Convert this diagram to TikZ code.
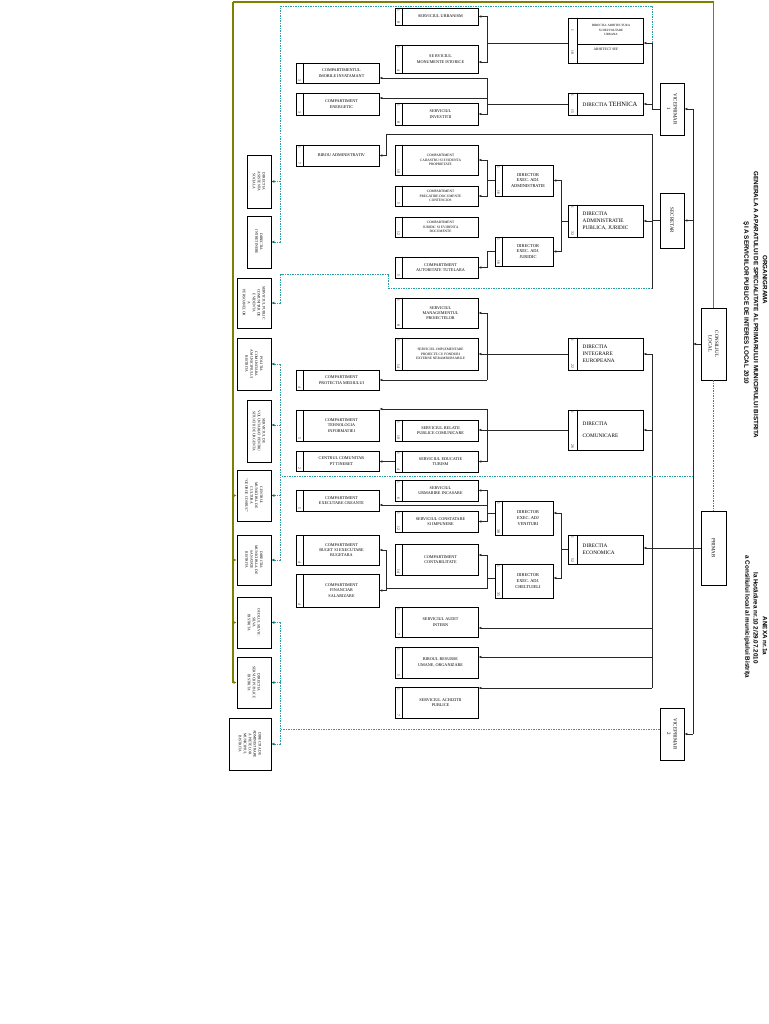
\documentclass[tikz,border=0pt]{standalone}
\usepackage{fontspec}
\setmainfont{Liberation Serif}
\newfontfamily\titlef{Liberation Sans}
\usetikzlibrary{arrows.meta,calc}
\definecolor{olivec}{RGB}{128,128,0}
\definecolor{tealc}{RGB}{40,160,165}
\definecolor{tealdark}{RGB}{20,110,110}
\definecolor{linec}{RGB}{40,40,40}

% name, xl, yt, xr, yb, topnum, botnum, text, strip width
\newcommand\orgbox[9]{%
  \node[box, minimum width={(#4-#2)*1pt}, minimum height={(#5-#3)*1pt}] (#1) at ({(#2+#4)/2},{(#3+#5)/2}) {};
  \draw[line width=0.5pt] ([xshift=#9pt]#1.north west) -- ([xshift=#9pt]#1.south west);
  \node[num, anchor=west] at ([xshift={#9*0.5pt}, yshift=-2pt]#1.north west) {#6};
  \node[num, anchor=east] at ([xshift={#9*0.5pt}, yshift=2pt]#1.south west) {#7};
  \node[bt] at ([xshift={#9*0.5pt}]#1.center) {#8};
}
% name, xl, yt, xr, yb, text, style
\newcommand\sidebox[7]{%
  \node[box, minimum width={(#4-#2)*1pt}, minimum height={(#5-#3)*1pt}] (#1) at ({(#2+#4)/2},{(#3+#5)/2}) {};
  \node[#7] at (#1.center) {#6};
}

\begin{document}
\begin{tikzpicture}[x=1pt,y=-1pt,
  box/.style={draw=black, line width=0.7pt, inner sep=0pt, fill=white},
  conn/.style={draw=linec, line width=0.8pt},
  arr/.style={conn, -{Latex[length=3pt,width=2.6pt]}},
  tdot/.style={draw=tealc, line width=1pt, dash pattern=on 1.5pt off 1pt},
  tarr/.style={tdot, -{Latex[length=3pt,width=2.8pt,color=tealdark]}},
  oarr/.style={draw=olivec, line width=1pt, -{Latex[length=3pt,width=3pt]}},
  num/.style={font=\fontsize{3.6}{4}\selectfont, rotate=-90, inner sep=0pt},
  bt/.style={font=\fontsize{4.2}{5.3}\selectfont, align=center, inner sep=0pt},
  ltxt/.style={font=\fontsize{3.7}{4.9}\selectfont, align=center, inner sep=0pt, rotate=-90},
  ptxt/.style={font=\fontsize{5}{6.5}\selectfont, align=center, inner sep=0pt, rotate=-90},
  ttl/.style={font=\titlef\bfseries\fontsize{6.3}{7}\selectfont, rotate=-90, inner sep=0pt},
]
\fill[white] (0,0) rectangle (768,1024);
\useasboundingbox (0,0) rectangle (768,1024);

% ---------------- compartments column
\orgbox{C1}{296}{63}{379}{83}{}{3}{COMPARTIMENTUL\\IMOBILE INVATAMANT}{8}
\orgbox{C2}{296}{93}{379}{115}{}{3}{COMPARTIMENT\\ENERGETIC}{8}
\orgbox{C3}{296}{145}{379}{166}{1}{7}{BIROU ADMINISTRATIV}{8}
\orgbox{C4}{296}{370}{379}{390}{}{4}{COMPARTIMENT\\PROTECTIA MEDIULUI}{8}
\orgbox{C5}{296}{410}{379}{441}{}{5}{COMPARTIMENT\\TEHNOLOGIA\\INFORMATIEI}{8}
\orgbox{C6}{296}{451}{379}{471}{}{2}{CENTRUL COMUNITAR\\PT TINERET}{8}
\orgbox{C7}{296}{490}{379}{511}{}{5}{COMPARTIMENT\\EXECUTARE CREANTE}{8}
\orgbox{C8}{296}{535}{379}{565}{}{4}{COMPARTIMENT\\BUGET SI EXECUTARE\\BUGETARA}{8}
\orgbox{C9}{296}{574}{379}{607}{}{4}{COMPARTIMENT\\FINANCIAR\\SALARIZARE}{8}

% ---------------- services column
\orgbox{S1}{395}{8}{478}{25}{1}{8}{SERVICIUL URBANISM}{8}
\orgbox{S2}{395}{45}{478}{73}{1}{4}{SE RVICIUL\\MONUMENTE ISTORICE}{8}
\orgbox{S3}{395}{103}{478}{125}{1}{8}{SERVICIUL\\INVESTITII}{8}
\tikzset{bt/.style={font=\fontsize{3.5}{4.6}\selectfont, align=center, inner sep=0pt}}
\orgbox{S4}{395}{145}{478}{175}{}{10}{COMPARTIMENT\\CADASTRU SI EVIDENTA\\PROPRIETATE}{8}
\orgbox{S5}{395}{186}{478}{206}{}{5}{COMPARTIMENT\\PREGATIRE DOCUMENTE\\CONTENCIOS}{8}
\orgbox{S6}{395}{217}{478}{237}{}{12}{COMPARTIMENT\\JURIDIC SI EVIDENTA\\DOCUMENTE}{8}
\tikzset{bt/.style={font=\fontsize{4.2}{5.3}\selectfont, align=center, inner sep=0pt}}
\orgbox{S7}{395}{257}{478}{278}{}{5}{COMPARTIMENT\\AUTORITATE TUTELARA}{8}
\orgbox{S8}{395}{298}{478}{328}{1}{8}{SERVICIUL\\MANAGEMENTUL\\PROIECTELOR}{8}
\tikzset{bt/.style={font=\fontsize{3.5}{4.6}\selectfont, align=center, inner sep=0pt}}
\orgbox{S9}{395}{338}{478}{370}{1}{14}{SERVICIUL IMPLEMENTARE\\PROIECTE CU FONDURI\\EXTERNE NERAMBURSABILE}{8}
\tikzset{bt/.style={font=\fontsize{4.2}{5.3}\selectfont, align=center, inner sep=0pt}}
\orgbox{S10}{395}{420}{478}{441}{1}{10}{SERVICIUL RELATII\\PUBLICE COMUNICARE}{8}
\orgbox{S11}{395}{451}{478}{472}{1}{4}{SERVICIUL EDUCATIE\\TURISM}{8}
\orgbox{S12}{395}{480}{478}{501}{1}{6}{SERVICIUL\\URMARIRE INCASARE}{8}
\orgbox{S13}{395}{511}{478}{532}{1}{12}{SERVICIUL CONSTATARE\\SI IMPUNERE}{8}
\orgbox{S14}{395}{544}{478}{575}{}{14}{COMPARTIMENT\\CONTABILITATE}{8}
\orgbox{S15}{395}{607}{478}{637}{1}{7}{SERVICIUL AUDIT\\INTERN}{8}
\orgbox{S16}{395}{647}{478}{678}{1}{5}{BIROUL RESURSE\\UMANE, ORGANIZARE}{8}
\orgbox{S17}{395}{687}{478}{718}{1}{7}{SERVICIUL ACHIZITII\\PUBLICE}{8}

% ---------------- directors
\tikzset{bt/.style={font=\fontsize{4.4}{5.8}\selectfont, align=center, inner sep=0pt}}
\orgbox{DA}{495}{165}{553}{196}{1}{16}{DIRECTOR\\EXEC. ADJ.\\ADMINISTRATIE}{8}
\orgbox{DJ}{495}{237}{553}{266}{1}{16}{DIRECTOR\\EXEC. ADJ.\\JURIDIC}{8}
\orgbox{DV}{495}{501}{553}{535}{1}{38}{DIRECTOR\\EXEC. ADJ\\VENITURI}{8}
\orgbox{DC}{495}{564}{553}{598}{1}{35}{DIRECTOR\\EXEC. ADJ.\\CHELTUIELI}{8}

% ---------------- directions
\node[box, minimum width=75pt, minimum height=45pt] (D1) at (605.5,40.5) {};
\draw[line width=0.5pt] ([xshift=10pt]D1.north west) -- ([xshift=10pt]D1.south west);
\draw[line width=0.5pt] (578,44) -- (643,44);
\node[num, anchor=west] at ([xshift=5pt, yshift=-12pt]D1.north west) {1};
\node[num, anchor=east] at ([xshift=5pt, yshift=9pt]D1.south west) {18};
\node[font=\fontsize{3.2}{4.1}\selectfont, align=center, inner sep=0pt] (D1t) at (611,30) {DIRECTIA ARHITECTURA\\SI DEZVOLTARE\\URBANA};
\node[font=\fontsize{3.6}{4.2}\selectfont, inner sep=0pt] (D1b) at (606,49) {ARHITECT SEF};

\tikzset{bt/.style={font=\fontsize{5.3}{7.2}\selectfont, align=left, inner sep=0pt, anchor=west, xshift=-28pt}}
\orgbox{D2}{568}{93}{643}{115}{1}{15}{DIRECTIA {\fontsize{6.5}{7}\selectfont TEHNICA}}{10}
\orgbox{D3}{568}{205}{643}{237}{1}{32}{DIRECTIA\\ADMINISTRATIE\\ PUBLICA, JURIDIC}{10}
\orgbox{D4}{568}{338}{643}{370}{1}{22}{DIRECTIA\\INTEGRARE\\EUROPEANA}{10}
\orgbox{D5}{568}{410}{643}{450}{1}{26}{DIRECTIA\\[5pt] COMUNICARE}{10}
\orgbox{D6}{568}{535}{643}{564}{1}{52}{DIRECTIA\\ECONOMICA}{10}

% ---------------- leadership boxes
\sidebox{VP1}{660}{83}{684}{135}{VICEPRIMAR\\1}{ptxt}
\sidebox{SEC}{660}{193}{684}{248}{SECRETAR}{ptxt}
\sidebox{CL}{701}{308}{726}{380}{CONSILIUL\\LOCAL}{ptxt}
\sidebox{PR}{701}{511}{726}{585}{PRIMAR}{ptxt}
\sidebox{VP2}{660}{708}{684}{760}{VICEPRIMAR\\2}{ptxt}

% ---------------- left column (subordinated units)
\sidebox{L1}{247}{155}{271}{208}{DIRECTIA\\ASISTENTA\\SOCIALA}{ltxt}
\sidebox{L2}{247}{216}{271}{268}{DIRECTIA\\INTRETINERE}{ltxt}
\sidebox{L3}{237}{278}{271}{328}{SERVICIUL PUBLIC\\COMUNITAR DE\\EVIDENTA\\A\\PERSOANELOR}{ltxt}
\sidebox{L4}{237}{338}{271}{390}{POLITIA\\COMUNITARA\\A MUNICIPIULUI\\BISTRITA}{ltxt}
\sidebox{L5}{247}{400}{271}{462}{SERVICIUL DE\\VOLUNTARIAT PENTRU\\SITUATII DE URGENTA}{ltxt}
\sidebox{L6}{237}{470}{271}{521}{CENTRUL\\MUNICIPAL DE\\CULTURA\\``GEORGE COSBUC''}{ltxt}
\sidebox{L7}{237}{535}{271}{585}{DIRECTIA\\MUNICIPALA DE\\SANATATE\\BISTRITA}{ltxt}
\sidebox{L8}{237}{597}{271}{648}{OCOLUL SILVIC\\SILVA\\BISTRITA}{ltxt}
\sidebox{L9}{237}{657}{271}{708}{DIRECTIA\\SERVICII PUBLICE\\BISTRITA}{ltxt}
\sidebox{L10}{229}{718}{271}{770}{DIRECTIA DE\\ADMINISTRARE\\A PIETELOR\\MUNICIPIUL\\BISTRITA}{ltxt}

% ---------------- title
\node[ttl] (t1) at (765,280) {ORGANIGRAMA};
\node[ttl] (t2) at (756,305) {GENERALA A APARATULUI DE SPECIALITATE AL PRIMARULUI MUNICIPIULUI BISTRITA};
\node[ttl] (t3) at (746,303) {ŞI A SERVICIILOR PUBLICE DE INTERES LOCAL 2010};
\node[ttl] (t4) at (765,636) {ANEXA nr.1a};
\node[ttl] (t5) at (756,618) {la Hotărârea nr.10 2/29.07.2010};
\node[ttl] (t6) at (747,617) {a Consiliului local al municipiului Bistrița};

% ---------------- olive lines
\coordinate (oTL) at (233,2);
\coordinate (oTR) at (713.5,2);
\draw[olivec, line width=2.4pt] (oTL) -- (oTR);
\draw[olivec, line width=1pt] (oTR) -- (CL.north);
\draw[olivec, line width=1pt, dash pattern=on 1.5pt off 1pt] (CL.south) -- (PR.north);
\draw[olivec, line width=1.3pt] (oTL) -- (oTL |- L9.west);
\foreach \b in {L6,L7,L8,L9} \draw[oarr] (oTL |- \b.west) -- (\b.west);

% ---------------- main vertical from the mayor
\coordinate (mtop) at (693,109);
\draw[conn] (mtop) -- (mtop |- VP2.east);
\draw[arr] (mtop) -- (VP1.east);
\draw[arr] (mtop |- SEC.east) -- (SEC.east);
\draw[arr] (CL.west) -- (CL.west -| mtop);
\draw[arr] (mtop |- VP2.east) -- (VP2.east);
\draw[arr] (PR.west) -- (PR.west -| D6.east);

% ---------------- viceprimar 1
\coordinate (jC) at (652,43);
\draw[arr] (jC) -- (jC -| D1.east);
\draw[conn] (jC) |- (VP1.west);
\draw[arr] (jC |- D2.east) -- (D2.east);
\coordinate (jA) at (487,43);
\draw[conn] (jA -| D1.west) -- (jA);
\draw[arr] (jA) |- (S1.east);
\draw[arr] (jA) |- ([yshift=-3pt]S2.east);
\coordinate (jB) at (487,104);
\draw[conn] (D2.west) -- (jB);
\draw[arr] (jB) |- ([yshift=-5pt]C1.east);
\draw[arr] (jB) |- ([yshift=6pt]C2.east);
\draw[arr] (jB) |- (S3.east);
% teal dotted to L1, L2
\coordinate (jCt) at (652.5,43);
\coordinate (tA) at (280.5,6.5);
\draw[tdot] (jCt) |- (tA) -- (tA |- L2.east);
\draw[tarr] (tA |- L1.east) -- (L1.east);
\draw[tarr] (tA |- L2.east) -- (L2.east);

% ---------------- secretar
\coordinate (jD) at (652,134);
\coordinate (jE) at (652,288.5);
\coordinate (jF) at (386,134);
\draw[conn] (SEC.west) -- (SEC.west -| jD);
\draw[conn] (jF) -- (jD) -- (jE);
\draw[arr] (jD |- D3.east) -- (D3.east);
\draw[arr] (jF) |- (C3.east);
\coordinate (tB) at (388.5,274.5);
\coordinate (tC) at (280.5,274.5);
\draw[tdot] (jE) -| (tB) -- (tC) -- (tC |- L3.east);
\draw[tarr] (tC |- L3.east) -- (L3.east);
% D3 branch
\coordinate (jG) at (561,221);
\draw[conn] (D3.west) -- (jG);
\draw[arr] (jG) |- (DA.east);
\draw[arr] (jG) |- (DJ.east);
\coordinate (jH) at (487,180.5);
\draw[conn] (DA.west) -- (jH);
\draw[arr] (jH) |- (S4.east);
\draw[arr] (jH) |- (S5.east);
\coordinate (jI) at (487,251.5);
\draw[conn] (DJ.west) -- (jI);
\draw[arr] (jI) |- (S7.east);

% ---------------- integrare / comunicare / staff services
\coordinate (jJ) at (652,354);
\coordinate (jK) at (652,688);
\draw[conn] (jJ) -- (jK);
\draw[arr] (jJ) -- (D4.east);
\draw[arr] (jJ |- D5.east) -- (D5.east);
\draw[arr] (jJ |- S15.east) ++(0,6) -- ([yshift=-6pt]S15.east);
\draw[arr] (jJ |- S16.east) ++(0,-5.5) -- ([yshift=5.5pt]S16.east);
\draw[arr] (jK) -- (jK -| S17.east);
% D4 branch
\coordinate (jL) at (487,354);
\coordinate (jM) at (487,380);
\draw[arr] (D4.west) -- (D4.west -| S9.east);
\draw[arr] (jL) |- (S8.east);
\draw[conn] (jL) -- (jM);
\draw[arr] (jM) -- (jM -| C4.east);
% D5 branch
\coordinate (jN) at (487,409);
\coordinate (jO) at (487,461.5);
\draw[arr] (D5.west) -- (D5.west -| S10.east);
\draw[conn] (jN) -- (jO);
\draw[arr] (jN) -- (jN -| C5.east);
\draw[arr] (jO) -- (jO -| S11.east);
\draw[arr] (S11.west) -- (S11.west -| C6.east);

% ---------------- economica
\coordinate (jP) at (561,549.5);
\draw[conn] (D6.west) -- (jP);
\draw[arr] (jP) |- ([yshift=5pt]DV.east);
\draw[arr] (jP) |- ([yshift=3pt]DC.east);
\coordinate (jQ) at (487,513);
\draw[conn] ([yshift=5pt]DV.west) -- (jQ);
\draw[arr] (jQ) |- (S12.east);
\draw[arr] (jQ) |- (S13.east);
\draw[arr] (jQ |- C7.east) ++(0,4.5) -- ([yshift=-4.5pt]C7.east);
\coordinate (jR) at (487,578);
\coordinate (jS) at (487,588);
\coordinate (jT) at (386,588);
\draw[conn] ([yshift=3pt]DC.west) -- (jR) -- (jS) -- (jT);
\draw[arr] (jR) |- ([yshift=4.5pt]S14.east);
\draw[arr] (jT) |- (C8.east);
\draw[arr] (jT) |- (C9.east);

% ---------------- teal dotted lines lower part
\coordinate (tD) at (693,476.5);
\coordinate (tE) at (280.5,476.5);
\draw[tdot] (tD) -- (tE);
\draw[tdot] (tE |- L4.east) -- (tE |- L7.east);
\draw[tarr] (tE |- L4.east) -- (L4.east);
\draw[tarr] (tE |- L5.east) ++(0,-6) -- ([yshift=6pt]L5.east);
\draw[tarr] (tE |- L6.east) -- (L6.east);
\draw[tarr] (tE |- L7.east) -- (L7.east);
\coordinate (tF) at (280.5,729.5);
\draw[tdot] ([yshift=4.5pt]VP2.west) -- (tF);
\draw[tdot] (tF |- L8.east) -- (tF |- L10.east);
\draw[tarr] (tF |- L8.east) -- (L8.east);
\draw[tarr] (tF |- L9.east) -- (L9.east);
\draw[tarr] (tF |- L10.east) -- (L10.east);
\end{tikzpicture}
\end{document}
